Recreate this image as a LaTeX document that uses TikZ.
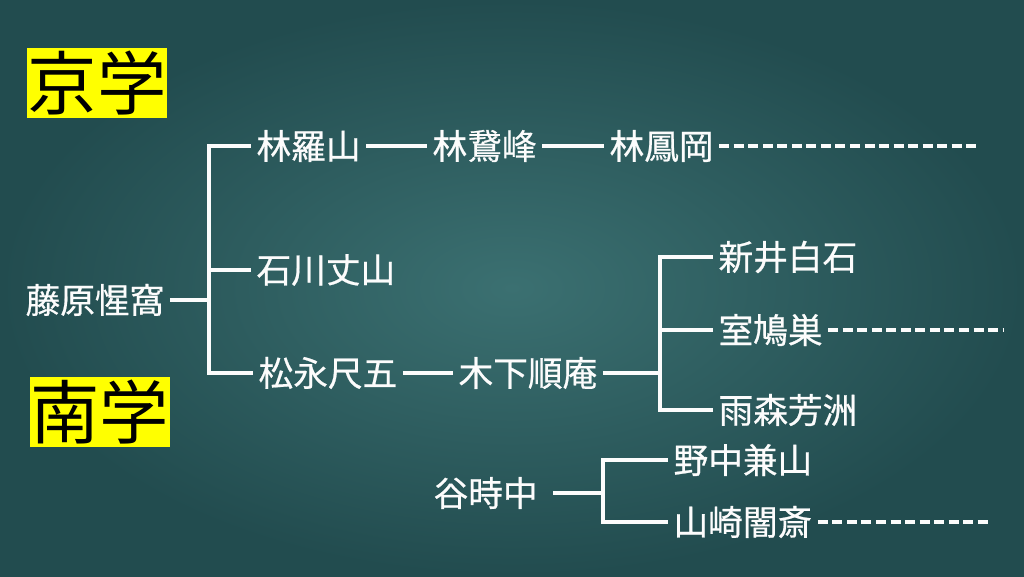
\documentclass[tikz,border=0pt]{standalone}
\usepackage{fontspec}
\newfontfamily\jpfont[FakeBold=0.6]{Noto Sans CJK JP}
\newfontfamily\jpheadfont{Noto Sans CJK JP}
\usetikzlibrary{positioning, calc}
\definecolor{boardlight}{RGB}{59, 112, 113}
\definecolor{boarddark}{RGB}{34, 76, 79}
\definecolor{chalk}{RGB}{252, 252, 252}
\definecolor{markyellow}{RGB}{255, 255, 0}

\tikzset{
  person/.style={anchor=west, inner xsep=4pt, inner ysep=0pt, text=chalk, font=\jpfont\fontsize{26}{26}\selectfont},
  school/.style={fill=markyellow, inner sep=0pt, minimum width=105pt, minimum height=52.5pt, font=\jpheadfont\fontsize{52}{52}\selectfont},
  link/.style={draw=chalk, line width=2.5pt},
  later/.style={draw=chalk, line width=2.5pt, dash pattern=on 7.5pt off 3.4pt}
}

\begin{document}
\begin{tikzpicture}[x=0.75pt, y=-0.75pt]
  \useasboundingbox (0,0) rectangle (1024,576);
  % Board
  \shade[inner color=boardlight, outer color=boarddark] (0,0) rectangle (1024,576);

  % Schools
  \node[school] (kyogaku) at (97,83) {京学};
  \node[school] (nangaku) at (100,412) {南学};

  % Kyogaku line
  \node[person] (fujiwara) at (20,300) {藤原惺窩};
  \node[person] (razan) at (251,146) {林羅山};
  \node[person] (jozan) at (251,270) {石川丈山};
  \node[person] (sekigo) at (253,373) {松永尺五};
  \node[person] (gaho) at (427,146) {林鵞峰};
  \node[person] (hoko) at (604,146) {林鳳岡};
  \node[person] (junan) at (453,373) {木下順庵};
  \node[person] (hakuseki) at (713,257) {新井白石};
  \node[person] (kyuso) at (713,330) {室鳩巣};
  \node[person] (hoshu) at (713,410) {雨森芳洲};

  % Nangaku line
  \node[person] (jichu) at (428,493) {谷時中};
  \node[person] (kenzan) at (668,460) {野中兼山};
  \node[person] (ansai) at (668,522) {山崎闇斎};

  \coordinate (fork1) at (209,300);
  \coordinate (fork2) at (660,373);
  \coordinate (fork3) at (603,493);
  \coordinate (end1) at (980,146);
  \coordinate (end2) at (1003,330);
  \coordinate (end3) at (988,522);

  \draw[link] (fujiwara.east) -- (fork1);
  \draw[link] (fork1) |- (razan.west);
  \draw[link] (fork1) |- (jozan.west);
  \draw[link] (fork1) |- (sekigo.west);
  \draw[link] (razan) -- (gaho);
  \draw[link] (gaho) -- (hoko);
  \draw[later] (hoko) -- (end1);
  \draw[link] (sekigo) -- (junan);
  \draw[link] (junan.east) -- (fork2);
  \draw[link] (fork2) |- (hakuseki.west);
  \draw[link] (fork2) |- (kyuso.west);
  \draw[link] (fork2) |- (hoshu.west);
  \draw[later] (kyuso) -- (end2);
  \draw[link, shorten <=7.5pt] (jichu.east) -- (fork3);
  \draw[link] (fork3) |- (kenzan.west);
  \draw[link] (fork3) |- (ansai.west);
  \draw[later] (ansai) -- (end3);
\end{tikzpicture}
\end{document}
